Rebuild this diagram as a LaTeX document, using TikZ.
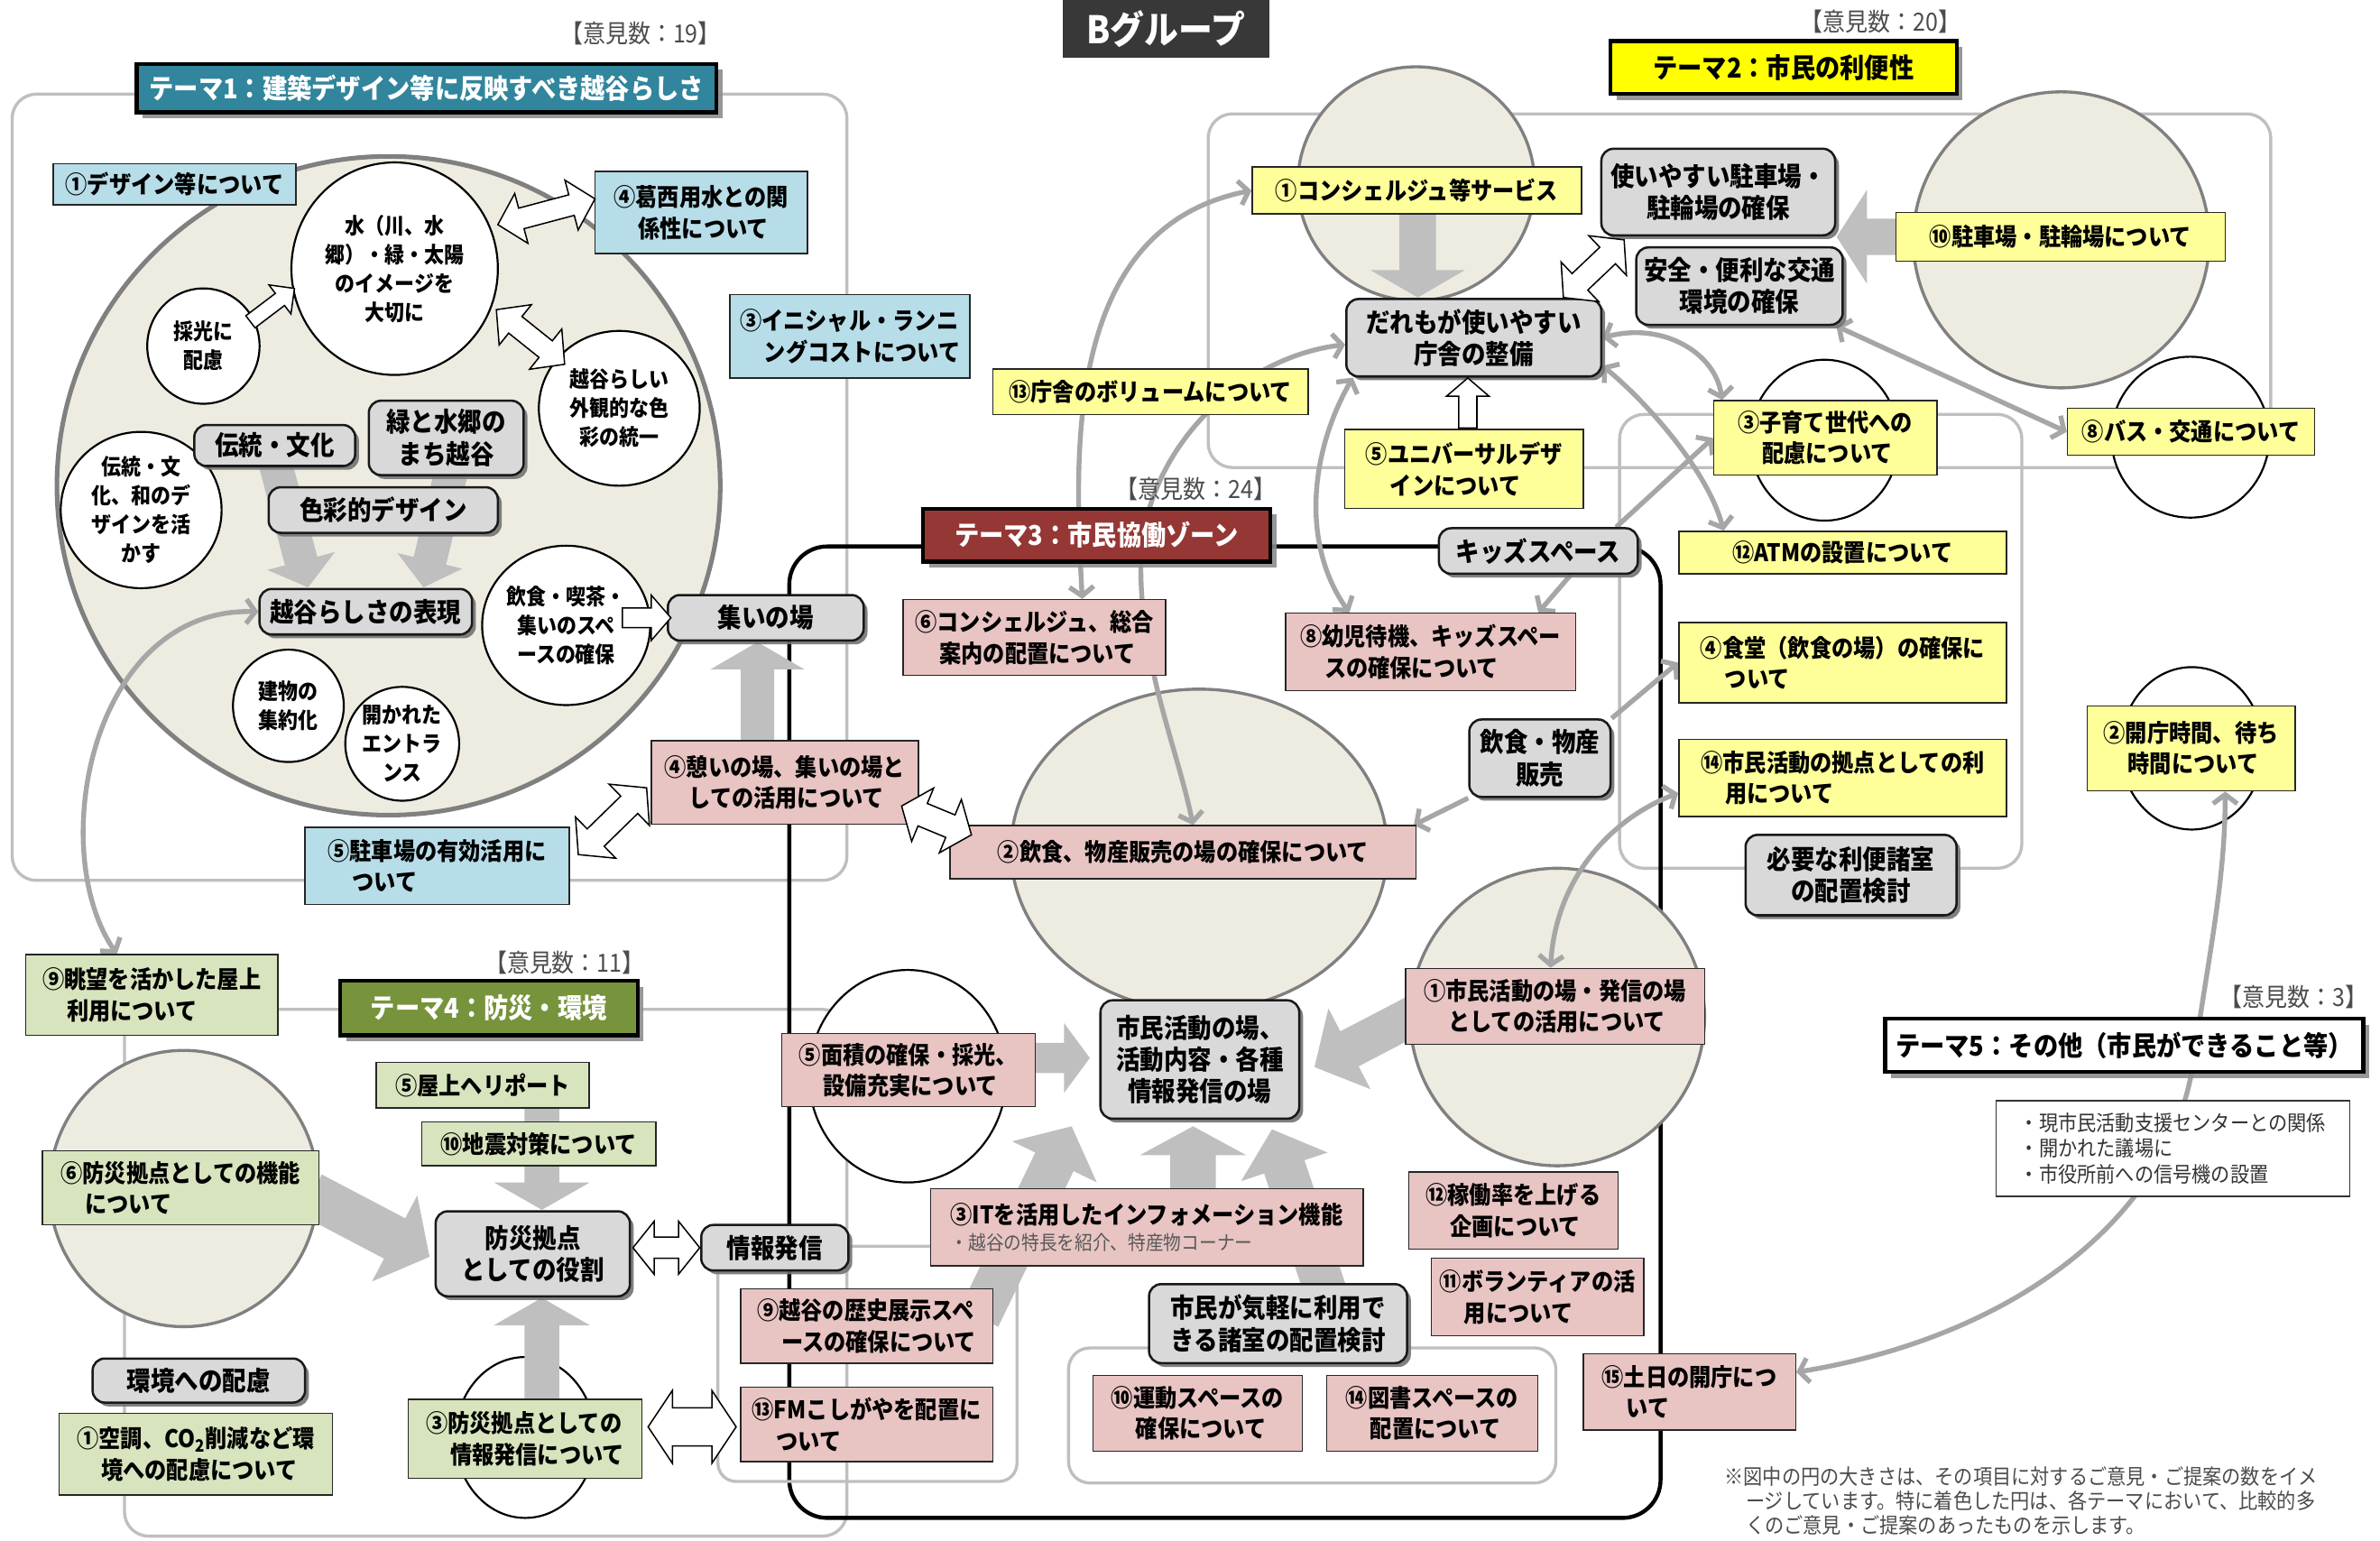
\documentclass[tikz,border=0pt]{standalone}
\usepackage{fontspec}
\setmainfont{Noto Sans CJK JP}[FakeStretch=0.9]
\usetikzlibrary{shapes.geometric,arrows.meta,shadows}
\definecolor{lblue}{HTML}{B7DDE8}
\definecolor{ybox}{HTML}{FFFF99}
\definecolor{pbox}{HTML}{E8C4C3}
\definecolor{gbox}{HTML}{D7E4BD}
\definecolor{gray85}{HTML}{D9D9D9}
\definecolor{beigec}{HTML}{EEECE1}
\definecolor{arrgray}{HTML}{BFBFBF}
\definecolor{curvegray}{HTML}{A6A6A6}
\definecolor{framegray}{HTML}{BFBFBF}
\definecolor{tealc}{HTML}{31859C}
\definecolor{redc}{HTML}{953735}
\definecolor{olivec}{HTML}{77933C}
\definecolor{yelc}{HTML}{FFFF00}
\pgfdeclarelayer{back}
\pgfdeclarelayer{mid}
\pgfsetlayers{back,mid,main}
\newcommand\jind{\hspace*{1em}}
\newcommand\Bx[7]{\node[#1,minimum width={(#5)-(#3)},minimum height={(#6)-(#4)}] (#2) at ({((#3)+(#5))/2},{((#4)+(#6))/2}) {#7};}
\newcommand\Ci[6]{\node[circ,minimum width=#4,minimum height=#5] (#1) at (#2,#3) {#6};}
\newcommand\arcalc[4]{%
  \pgfmathsetmacro\arA{atan2((#2)-(#4),(#3)-(#1))}%
  \pgfmathsetmacro\arL{veclen((#3)-(#1),(#4)-(#2))}}
\newcommand\garr[7]{\arcalc{#1}{#2}{#3}{#4}\pgfmathsetmacro\arB{\arL-(#7)}%
  \fill[arrgray,shift={(#1,#2)},rotate=\arA] (0,#5/2) -- (\arB,#5/2) -- (\arB,#6/2) -- (\arL,0) -- (\arB,-#6/2) -- (\arB,-#5/2) -- (0,-#5/2) -- cycle;}
\newcommand\wsarr[7]{\arcalc{#1}{#2}{#3}{#4}\pgfmathsetmacro\arB{\arL-(#7)}%
  \filldraw[fill=white,draw=black,line width=0.9pt,shift={(#1,#2)},rotate=\arA] (0,#5/2) -- (\arB,#5/2) -- (\arB,#6/2) -- (\arL,0) -- (\arB,-#6/2) -- (\arB,-#5/2) -- (0,-#5/2) -- cycle;}
\newcommand\wdarr[7]{\arcalc{#1}{#2}{#3}{#4}\pgfmathsetmacro\arB{\arL-(#7)}%
  \filldraw[fill=white,draw=black,line width=0.9pt,shift={(#1,#2)},rotate=\arA] (0,0) -- (#7,#6/2) -- (#7,#5/2) -- (\arB,#5/2) -- (\arB,#6/2) -- (\arL,0) -- (\arB,-#6/2) -- (\arB,-#5/2) -- (#7,-#5/2) -- (#7,-#6/2) -- cycle;}
\tikzset{
  tbox/.style={draw=black!85, line width=0.9pt, inner sep=2pt, align=left, text=black, font=\bfseries\fontsize{16}{20.5}\selectfont},
  bluebox/.style={tbox, fill=lblue},
  yelbox/.style={tbox, fill=ybox},
  pinkbox/.style={tbox, fill=pbox},
  grnbox/.style={tbox, fill=gbox},
  graybox/.style={draw=black!90, line width=1.5pt, fill=gray85, rounded corners=8pt, align=center, inner sep=2pt, font=\bfseries\fontsize{17.5}{21}\selectfont, drop shadow={shadow xshift=2.5pt,shadow yshift=-2.5pt,fill=black!55,opacity=0.9}},
  titlebox/.style={draw=black, line width=2.5pt, inner sep=3pt, font=\bfseries\fontsize{18}{22}\selectfont, drop shadow={shadow xshift=4pt,shadow yshift=-4pt,fill=black!45,opacity=0.9}},
  circ/.style={ellipse, draw=black, line width=1.3pt, fill=white, inner sep=0pt, align=center, font=\bfseries\fontsize{14.5}{19}\selectfont},
  beige/.style={ellipse, draw=black!50, line width=2pt, fill=beigec, inner sep=0pt},
  wellip/.style={ellipse, draw=black, line width=1.3pt, fill=white, inner sep=0pt},
  frameg/.style={draw=framegray, line width=2pt, rounded corners=16pt},
  cntlabel/.style={font=\fontsize{16.5}{19}\selectfont, text=black!70},
  gcurve/.style={draw=curvegray, line width=3.2pt, {Straight Barb[length=6pt,width=16pt]}-{Straight Barb[length=6pt,width=16pt]}},
  gcurveone/.style={draw=curvegray, line width=3.2pt, -{Straight Barb[length=6pt,width=16pt]}}
}
\begin{document}
\begin{tikzpicture}[x=1pt,y=-1pt]
\useasboundingbox (0,0) rectangle (1568,1015);
% ---------------- back layer: frames and ellipses
\begin{pgfonlayer}{back}
\fill[white] (0,0) rectangle (1568,1015);
\draw[frameg] (8,62) rectangle (558,580);
\draw[frameg] (82,665) rectangle (558,1012);
\draw[frameg] (796,75) rectangle (1496,308);
\draw[frameg] (1067,273) rectangle (1332,572);
\draw[black, line width=2.6pt, rounded corners=25pt] (520,360) rectangle (1094,1000);
\draw[frameg, rounded corners=12pt] (473,821) rectangle (670,976);
\draw[frameg, rounded corners=14pt] (704,888) rectangle (1025,977);
\node[beige, line width=3pt, minimum width=437, minimum height=434] (e1) at (256,320) {};
\node[beige, minimum width=177, minimum height=182] (e2) at (121,783) {};
\node[beige, minimum width=248, minimum height=212] (e3) at (790,560) {};
\node[beige, minimum width=156, minimum height=154] (e4) at (933,121) {};
\node[beige, minimum width=195, minimum height=195] (e5) at (1358,158) {};
\node[beige, minimum width=194, minimum height=196] (e6) at (1026,670) {};
\node[wellip, minimum width=92, minimum height=106] (w1) at (346,947) {};
\node[wellip, minimum width=130, minimum height=140] (w2) at (598,709) {};
\node[wellip, minimum width=98, minimum height=106] (w3) at (1202,290) {};
\node[wellip, minimum width=104, minimum height=106] (w4) at (1443,288) {};
\node[wellip, minimum width=94, minimum height=107] (w5) at (1444,493) {};
\end{pgfonlayer}
% ---------------- labels
\node[cntlabel] (n19) at (422,22) {【意見数：19】};
\node[cntlabel] (n20) at (1239,14) {【意見数：20】};
\node[cntlabel] (n24) at (788,322) {【意見数：24】};
\node[cntlabel] (n11) at (372,634) {【意見数：11】};
\node[cntlabel] (n3) at (1511,657) {【意見数：3】};
\Bx{fill=black!78,text=white,inner sep=0pt,font=\bfseries\fontsize{25}{28}\selectfont}{bgr}{700}{0}{836}{38}{Bグループ}
% titles
\Bx{titlebox,fill=tealc,text=white}{t1}{90}{42}{472}{74}{テーマ1：建築デザイン等に反映すべき越谷らしさ}
\Bx{titlebox,fill=yelc,text=black}{t2}{1061}{27}{1289}{62}{テーマ2：市民の利便性}
\Bx{titlebox,fill=redc,text=white}{t3}{608}{335}{837}{370}{テーマ3：市民協働ゾーン}
\Bx{titlebox,fill=olivec,text=white}{t4}{224}{646}{420}{682}{テーマ4：防災・環境}
\Bx{titlebox,fill=white,text=black}{t5}{1242}{671}{1557}{706}{テーマ5：その他（市民ができること等）}
% circles theme 1
\Ci{mz}{260}{177}{136}{140}{水（川、水\\郷）・緑・太陽\\のイメージを\\大切に}
\Ci{sk}{134}{228}{74}{76}{採光に\\配慮}
\Ci{kr}{408}{269}{106}{102}{越谷らしい\\外観的な色\\彩の統一}
\Ci{dbc}{93}{336}{106}{103}{伝統・文\\化、和のデ\\ザインを活\\かす}
\Ci{ins}{373}{412}{105}{105}{飲食・喫茶・\\集いのスペ\\ースの確保}
\Ci{tm}{190}{465}{73}{74}{建物の\\集約化}
\Ci{hk}{265}{490}{75}{75}{開かれた\\エントラ\\ンス}
% theme 1 boxes
\Bx{bluebox}{d1}{35}{108}{195}{135}{①デザイン等について}
\Bx{bluebox}{d4}{392}{113}{532}{167}{④葛西用水との関\\\jind 係性について}
\Bx{bluebox}{d3}{481}{194}{639}{249}{③イニシャル・ランニ\\\jind ングコストについて}
\Bx{bluebox}{d5}{201}{545}{375}{596}{⑤駐車場の有効活用に\\\jind ついて}
\Bx{graybox}{g1}{128}{280}{234}{307}{伝統・文化}
\Bx{graybox}{g2}{243}{264}{345}{313}{緑と水郷の\\まち越谷}
\Bx{graybox}{g3}{177}{321}{328}{351}{色彩的デザイン}
\Bx{graybox}{kh}{171}{388}{311}{418}{越谷らしさの表現}
\Bx{graybox}{tb}{440}{392}{569}{422}{集いの場}
% theme 4
\Bx{grnbox}{s9}{17}{629}{183}{682}{⑨眺望を活かした屋上\\\jind 利用について}
\Bx{grnbox}{h5}{248}{700}{388}{730}{⑤屋上ヘリポート}
\Bx{grnbox}{h10}{278}{739}{432}{768}{⑩地震対策について}
\Bx{grnbox}{h6}{28}{758}{210}{807}{⑥防災拠点としての機能\\\jind について}
\Bx{grnbox}{h1}{39}{931}{219}{985}{①空調、CO\textsubscript{2}削減など環\\\jind 境への配慮について}
\Bx{grnbox}{h3}{269}{922}{423}{974}{③防災拠点としての\\\jind 情報発信について}
\Bx{graybox}{bs}{287}{798}{415}{854}{防災拠点\\としての役割}
\Bx{graybox}{kk}{61}{895}{201}{924}{環境への配慮}
\Bx{graybox}{jh}{462}{807}{559}{837}{情報発信}
% theme 3
\Bx{pinkbox}{p6}{595}{395}{768}{445}{⑥コンシェルジュ、総合\\\jind 案内の配置について}
\Bx{pinkbox}{p8}{847}{404}{1038}{455}{⑧幼児待機、キッズスペー\\\jind スの確保について}
\Bx{pinkbox}{p4}{429}{488}{605}{543}{④憩いの場、集いの場と\\\jind しての活用について}
\Bx{pinkbox}{p2}{626}{544}{933}{579}{②飲食、物産販売の場の確保について}
\Bx{pinkbox}{pm1}{926}{638}{1123}{688}{①市民活動の場・発信の場\\\jind としての活用について}
\Bx{pinkbox}{p5}{515}{681}{682}{729}{⑤面積の確保・採光、\\\jind 設備充実について}
\Bx{pinkbox}{p3}{613}{783}{898}{834}{③ITを活用したインフォメーション機能\\[-3pt]{\mdseries\color{black!65}\fontsize{13}{15}\selectfont ・越谷の特長を紹介、特産物コーナー}}
\Bx{pinkbox}{p9}{488}{849}{654}{898}{⑨越谷の歴史展示スペ\\\jind ースの確保について}
\Bx{pinkbox}{p13}{488}{914}{654}{963}{⑬FMこしがやを配置に\\\jind ついて}
\Bx{pinkbox}{p10}{720}{906}{858}{956}{⑩運動スペースの\\\jind 確保について}
\Bx{pinkbox}{p14}{874}{906}{1013}{956}{⑭図書スペースの\\\jind 配置について}
\Bx{pinkbox}{p12}{928}{772}{1066}{823}{⑫稼働率を上げる\\\jind 企画について}
\Bx{pinkbox}{p11}{943}{829}{1083}{880}{⑪ボランティアの活\\\jind 用について}
\Bx{pinkbox}{p15}{1043}{892}{1183}{942}{⑮土日の開庁につ\\\jind いて}
\Bx{graybox}{ks}{948}{348}{1079}{378}{キッズスペース}
\Bx{graybox}{ib}{968}{474}{1061}{525}{飲食・物産\\販売}
\Bx{graybox}{sk3}{725}{659}{856}{737}{市民活動の場、\\活動内容・各種\\情報発信の場}
\Bx{graybox}{kg}{757}{846}{927}{898}{市民が気軽に利用で\\きる諸室の配置検討}
% theme 2
\Bx{yelbox}{c1}{825}{110}{1042}{141}{①コンシェルジュ等サービス}
\Bx{yelbox}{c13}{654}{243}{862}{273}{⑬庁舎のボリュームについて}
\Bx{yelbox}{c5}{886}{283}{1043}{335}{⑤ユニバーサルデザ\\\jind インについて}
\Bx{yelbox}{c10}{1249}{140}{1466}{172}{⑩駐車場・駐輪場について}
\Bx{yelbox}{c3}{1129}{264}{1276}{313}{③子育て世代への\\\jind 配慮について}
\Bx{yelbox}{c8}{1362}{269}{1525}{300}{⑧バス・交通について}
\Bx{yelbox}{c12}{1106}{350}{1322}{378}{⑫ATMの設置について}
\Bx{yelbox}{c4}{1106}{410}{1322}{463}{④食堂（飲食の場）の確保に\\\jind ついて}
\Bx{yelbox}{c14}{1106}{487}{1322}{538}{⑭市民活動の拠点としての利\\\jind 用について}
\Bx{yelbox}{c2}{1375}{465}{1512}{521}{②開庁時間、待ち\\\jind 時間について}
\Bx{graybox}{dr}{887}{197}{1055}{248}{だれもが使いやすい\\庁舎の整備}
\Bx{graybox}{ck}{1055}{98}{1209}{155}{使いやすい駐車場・\\駐輪場の確保}
\Bx{graybox}{an}{1078}{163}{1214}{214}{安全・便利な交通\\環境の確保}
\Bx{graybox}{hy}{1150}{550}{1289}{603}{必要な利便諸室\\の配置検討}
% theme 5
\Bx{draw=black!80,line width=0.9pt,fill=white,align=left,text=black!80,inner sep=4pt,font=\fontsize{14}{17}\selectfont}{bl}{1315}{725}{1548}{788}{・現市民活動支援センターとの関係\\・開かれた議場に\\・市役所前への信号機の設置}
\node[anchor=north west, align=left, text=black!70, inner sep=0pt, font=\fontsize{14}{16}\selectfont] (fn) at (1136,966) {※図中の円の大きさは、その項目に対するご意見・ご提案の数をイメ\\\jind ージしています。特に着色した円は、各テーマにおいて、比較的多\\\jind くのご意見・ご提案のあったものを示します。};
% white block arrows
\wdarr{328}{148}{392}{131}{14}{34}{16}
\wdarr{327}{204}{372}{240}{14}{34}{16}
\wsarr{165}{212}{194}{190}{10}{24}{12}
\wsarr{410}{407}{442}{407}{13}{30}{13}
\wdarr{381}{563}{426}{519}{16}{38}{16}
\wdarr{594}{531}{640}{550}{16}{38}{15}
\wdarr{1030}{196}{1070}{158}{15}{36}{15}
\wsarr{967}{282}{967}{249}{12}{28}{12}
\wdarr{417}{822}{461}{822}{14}{35}{14}
\wdarr{427}{940}{485}{940}{25}{48}{16}
% ---------------- mid layer: gray arrows and connectors
\begin{pgfonlayer}{mid}
\garr{180}{300}{203}{387}{22}{46}{18}
\garr{297}{312}{279}{387}{22}{44}{18}
\garr{499}{488}{499}{423}{22}{62}{18}
\garr{934}{141}{934}{196}{24}{62}{18}
\garr{1250}{156}{1210}{156}{24}{62}{20}
\garr{357}{730}{357}{797}{23}{63}{18}
\garr{205}{787}{283}{828}{30}{64}{26}
\garr{357}{925}{357}{855}{23}{63}{18}
\garr{680}{697}{718}{697}{20}{46}{17}
\garr{935}{667}{866}{703}{26}{60}{26}
\garr{645}{868}{706}{742}{28}{62}{26}
\garr{786}{785}{786}{742}{30}{70}{19}
\garr{873}{850}{838}{744}{28}{60}{26}
\draw[gcurve] ([xshift=31.5pt]p6.north) .. controls (708,300) and (700,150) .. (c1.west);
\draw[gcurve] ([yshift=-4.5pt]dr.west) .. controls (820,235) and (760,290) .. (752,360) .. controls (748,430) and (775,490) .. ([xshift=6.5pt]p2.north);
\draw[gcurve] ([xshift=5pt]dr.south west) .. controls (862,300) and (858,360) .. ([xshift=-53.5pt]p8.north);
\draw[gcurve] (dr.east) .. controls (1095,212) and (1130,232) .. ([xshift=6pt]c3.north west);
\draw[gcurve] ([yshift=-18.5pt]dr.east) .. controls (1085,265) and (1125,310) .. ([xshift=30pt]c12.north west);
\draw[gcurve] ([xshift=-5pt]an.south east) -- (c8.west);
\draw[gcurveone] ([xshift=-15pt]ks.north east) -- (c3.west);
\draw[gcurveone] ([xshift=-45pt]ks.south east) -- ([xshift=-25pt]p8.north east);
\draw[gcurveone] (ib.south west) -- ([xshift=-2pt]p2.north east);
\draw[gcurveone] (ib.north east) -- (c4.west);
\draw[gcurve] ([yshift=-10pt]c14.west) .. controls (1060,540) and (1025,580) .. ([xshift=-3pt]pm1.north);
\draw[gcurve] ([yshift=13pt]p15.east) .. controls (1330,880) and (1430,800) .. (1445,700) .. controls (1455,630) and (1466,580) .. ([xshift=22.5pt]c2.south);
\draw[gcurve] (kh.west) .. controls (60,400) and (30,560) .. ([xshift=-23pt]s9.north);
\end{pgfonlayer}
\end{tikzpicture}
\end{document}
